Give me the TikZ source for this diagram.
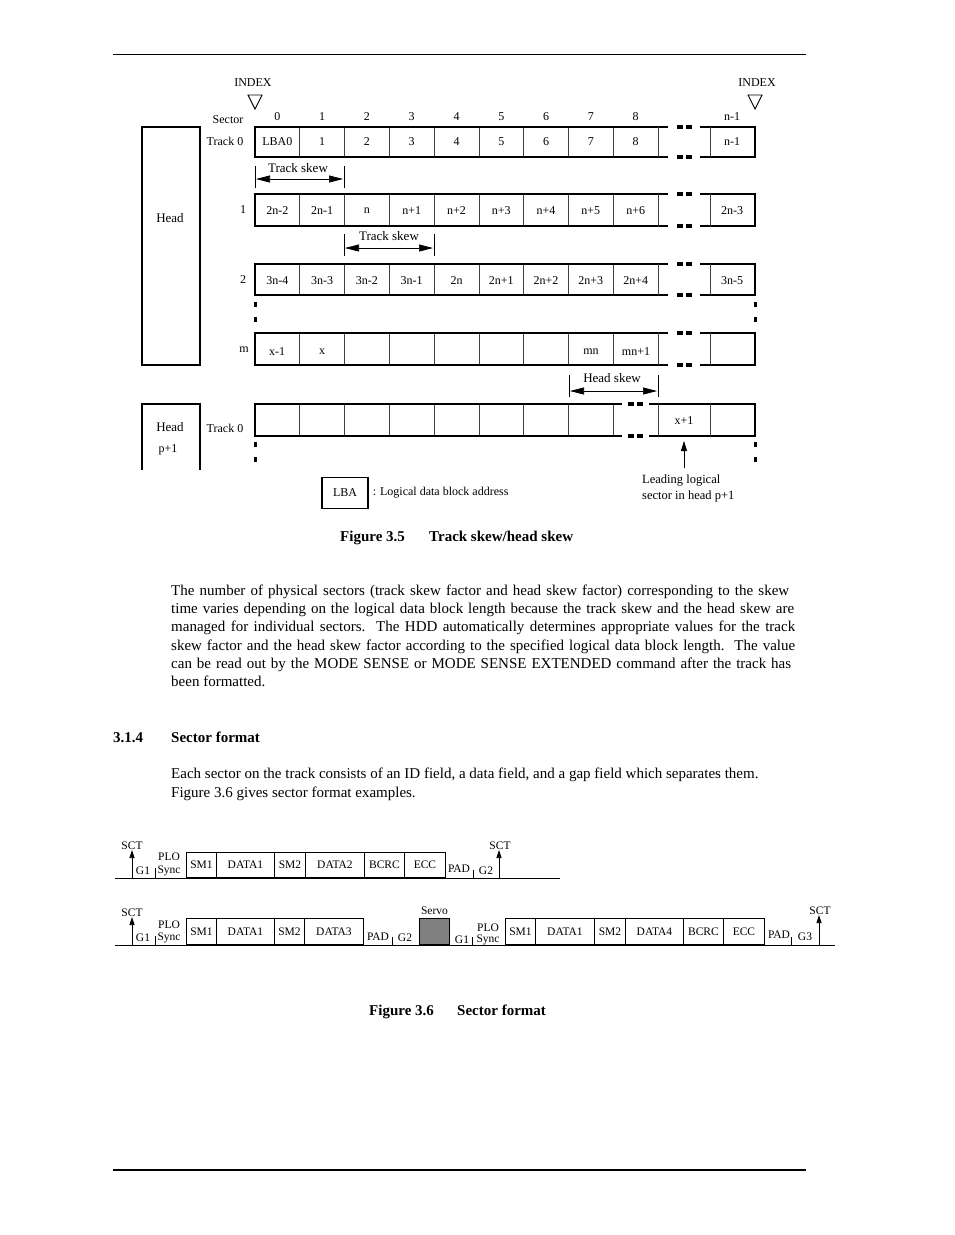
\documentclass[tikz,border=0pt]{standalone}
\usepackage{fontspec}
\setmainfont{Liberation Serif}
\usetikzlibrary{arrows.meta,positioning,calc}

\begin{document}
\begin{tikzpicture}[x=1pt,y=-1pt,
  lbl/.style={inner sep=0pt,font=\fontsize{12}{14}\selectfont},
  body/.style={inner sep=0pt,anchor=base west,font=\fontsize{15}{18}\selectfont},
  capt/.style={inner sep=0pt,anchor=base west,font=\fontsize{15}{18}\selectfont\bfseries},
  rowline/.style={line width=1.5pt},
  cellline/.style={line width=0.8pt,black!75},
  fld/.style={draw,line width=0.9pt,inner sep=0pt,anchor=south west,font=\fontsize{11.5}{13}\selectfont},
  sml/.style={inner sep=0pt,font=\fontsize{11.5}{13}\selectfont},
  skew/.style={<->,>={Triangle[length=14pt,width=7pt]},line width=0.7pt},
  up/.style={->,>={Triangle[length=8pt,width=5pt]},line width=0.8pt}]

\fill[white] (0,0) rectangle (954,1235);
\useasboundingbox (0,0) rectangle (954,1235);

% page rules
\draw[line width=0.8pt] (113,54) -- (806,54);
\draw[line width=1.8pt] (113,1170) -- (806,1170);

% Figure 3.5: index marks and sector numbers
\node[lbl] (idxL) at (253,83) {INDEX};
\node[lbl] (idxR) at (757,83) {INDEX};
\draw[line width=0.9pt] (248,95) -- (262,95) -- (255,109) -- cycle;
\draw[line width=0.9pt] (748,95) -- (762,95) -- (755,109) -- cycle;
\node[lbl] (sec) at (228,120) {Sector};
\foreach \l [count=\i] in {0,1,2,3,4,5,6,7,8}
  \node[lbl] (sn\i) at ({255+(\i-0.5)*44.78},117) {\l};
\node[lbl] (snn) at (732,117) {n-1};

% tracks of the first head
\foreach \r/\t/\b in {0/127/157,1/194/226,2/264/295,m/333/365}{
  \foreach \i in {1,...,8}
    \draw[cellline] ({255+\i*44.78},\t) -- ({255+\i*44.78},\b);
  \draw[rowline] (668,\t) -- (255,\t) -- (255,\b) -- (668,\b);
  \draw[rowline] (700,\t) -- (755,\t) -- (755,\b) -- (700,\b);
  \draw[cellline] (658,\t) -- (658,\b);
  \draw[cellline] (710,\t) -- (710,\b);
  \foreach \d in {677,686}{
    \fill (\d,\t-2) rectangle ++(6,4);
    \fill (\d,\b-2) rectangle ++(6,4);
  }
}
\foreach \l [count=\i] in {LBA0,1,2,3,4,5,6,7,8}
  \node[lbl] (ta\i) at ({255+(\i-0.5)*44.78},142) {\l};
\node[lbl] (tan) at (732,142) {n-1};
\foreach \l [count=\i] in {2n-2,2n-1,n,n+1,n+2,n+3,n+4,n+5,n+6}
  \node[lbl] (tb\i) at ({255+(\i-0.5)*44.78},211) {\l};
\node[lbl] (tbn) at (732,211) {2n-3};
\foreach \l [count=\i] in {3n-4,3n-3,3n-2,3n-1,2n,2n+1,2n+2,2n+3,2n+4}
  \node[lbl] (tc\i) at ({255+(\i-0.5)*44.78},281) {\l};
\node[lbl] (tcn) at (732,281) {3n-5};
\node[lbl] (tm1) at (277,352) {x-1};
\node[lbl] (tm2) at (322,352) {x};
\node[lbl] (tm8) at (591,352) {mn};
\node[lbl] (tm9) at (636,352) {mn+1};

\node[lbl] (trk0) at (225,141) {Track 0};
\node[lbl] (trk1) at (243,210) {1};
\node[lbl] (trk2) at (243,280) {2};
\node[lbl] (trkm) at (244,350) {m};

% head boxes
\draw[rowline] (142,127) rectangle (200,365);
\node[lbl,font=\fontsize{13}{15}\selectfont] (head) at (170,218) {Head};
\draw[rowline] (142,470) -- (142,404) -- (200,404) -- (200,470);
\node[lbl,font=\fontsize{13}{15}\selectfont] (headp) at (170,427) {Head};
\node[lbl] (headq) at (168,450) {p+1};

% track 0 of head p+1
\foreach \i in {1,...,8}
  \draw[cellline] ({255+\i*44.78},404) -- ({255+\i*44.78},436);
\draw[rowline] (622,404) -- (255,404) -- (255,436) -- (622,436);
\draw[rowline] (649,404) -- (755,404) -- (755,436) -- (649,436);
\draw[cellline] (658,404) -- (658,436);
\draw[cellline] (710,404) -- (710,436);
\foreach \d in {628,637}{
  \fill (\d,402) rectangle ++(6,4);
  \fill (\d,434) rectangle ++(6,4);
}
\node[lbl] (xp1) at (684,421) {x+1};
\node[lbl] (trkp) at (225,428) {Track 0};

% vertical continuation marks
\foreach \x in {255,755}
  \foreach \y in {302,317,442,457}
    \fill (\x-1.5,\y) rectangle ++(3,5);

% skews
\draw[line width=0.8pt] (255,166) -- (255,188) (344,166) -- (344,188);
\coordinate (ts1a) at (256,179);
\coordinate (ts1b) at (343,179);
\draw[skew] (ts1a) -- (ts1b);
\node[lbl,font=\fontsize{13}{15}\selectfont] (ts1) at (298,168) {Track skew};

\draw[line width=0.8pt] (344,234) -- (344,256) (434,234) -- (434,256);
\coordinate (ts2a) at (345,248);
\coordinate (ts2b) at (433,248);
\draw[skew] (ts2a) -- (ts2b);
\node[lbl,font=\fontsize{13}{15}\selectfont] (ts2) at (389,236) {Track skew};

\draw[line width=0.8pt] (569,375) -- (569,397) (658,375) -- (658,397);
\coordinate (hsa) at (570,391);
\coordinate (hsb) at (657,391);
\draw[skew] (hsa) -- (hsb);
\node[lbl,font=\fontsize{13}{15}\selectfont] (hs) at (612,378) {Head skew};

% leading sector
\coordinate (leadtip) at (684,441);
\coordinate (lead) at (684,468);
\draw[up,>={Triangle[length=10pt,width=6pt]}] (lead) -- (leadtip);
\node[lbl,align=left,anchor=north west,font=\fontsize{12.5}{16}\selectfont] (leadtxt) at (642,475) {Leading logical\\sector in head p+1};

% legend
\node[lbl,draw,line width=1.2pt,minimum width=46pt,minimum height=31pt] (lba) at (345,493) {LBA};
\node[lbl,right=4pt of lba] (lbatxt) {: Logical data block address};

\node[capt] (cap35a) at (340,541) {Figure 3.5};
\node[capt] (cap35b) at (429,541) {Track skew/head skew};

% text
\node[body] (p1a) at (171,595.5) {\makebox[618pt][s]{The number of physical sectors (track skew factor and head skew factor) corresponding to the skew}};
\node[body] (p1b) at (171,613.7) {\makebox[623pt][s]{time varies depending on the logical data block length because the track skew and the head skew are}};
\node[body] (p1c) at (171,631.9) {\makebox[624pt][s]{managed for individual sectors.\ \ The HDD automatically determines appropriate values for the track}};
\node[body] (p1d) at (171,650.1) {\makebox[624pt][s]{skew factor and the head skew factor according to the specified logical data block length.\ \ The value}};
\node[body] (p1e) at (171,668.3) {\makebox[620pt][s]{can be read out by the MODE SENSE or MODE SENSE EXTENDED command after the track has}};
\node[body] (p1f) at (171,686.5) {been formatted.};

\node[capt] (sec314) at (113,742.5) {3.1.4};
\node[capt] (sec314t) at (171,742.5) {Sector format};

\node[body] (p2a) at (171,778.5) {Each sector on the track consists of an ID field, a data field, and a gap field which separates them.};
\node[body] (p2b) at (171,797.5) {Figure 3.6 gives sector format examples.};

% Figure 3.6, first format
\draw[line width=0.9pt] (115,878) -- (560,878);
\foreach \a/\b/\t [count=\k] in {186/216/SM1,216/274/DATA1,274/305/SM2,305/364/DATA2,364/404/BCRC,404/445/ECC}
  \node[fld,minimum width={(\b-\a)*1pt},minimum height=25pt] (fa\k) at (\a,878) {\t};
\node[sml] (sa1) at (132,846) {SCT};
\node[sml] (sa2) at (500,846) {SCT};
\coordinate (sa1b) at (132,878);
\coordinate (sa2b) at (499,878);
\draw[up] (sa1b) -- (sa1.south);
\draw[up] (sa2b) -- (sa2.south -| sa2b);
\node[sml] (ga1) at (143,871) {G1};
\node[sml] (pa1) at (169,857) {PLO};
\node[sml] (ya1) at (169,871) {Sync};
\node[sml] (da1) at (459,869) {PAD};
\node[sml] (ga2) at (486,871) {G2};
\draw[line width=0.6pt] (155,868) -- (155,878) (473,870) -- (473,878);

% second format, with servo
\draw[line width=0.9pt] (115,945) -- (835,945);
\foreach \a/\b/\t [count=\k] in {186/216/SM1,216/274/DATA1,274/304/SM2,304/363/DATA3,505/535/SM1,535/594/DATA1,594/625/SM2,625/683/DATA4,683/723/BCRC,723/764/ECC}
  \node[fld,minimum width={(\b-\a)*1pt},minimum height=26pt] (fb\k) at (\a,945) {\t};
\node[fld,fill=black!50,minimum width=30pt,minimum height=26pt] (servo) at (419,945) {};
\node[sml,above=3pt of servo] (servot) {Servo};
\node[sml] (sb1) at (132,913) {SCT};
\node[sml] (sb2) at (820,911) {SCT};
\coordinate (sb1b) at (132,945);
\coordinate (sb2b) at (819,945);
\draw[up] (sb1b) -- (sb1.south);
\draw[up] (sb2b) -- (sb2.south -| sb2b);
\node[sml] (gb1) at (143,938) {G1};
\node[sml] (pb1) at (169,925) {PLO};
\node[sml] (yb1) at (169,938) {Sync};
\node[sml] (db1) at (378,937) {PAD};
\node[sml] (gb2) at (405,938) {G2};
\node[sml] (gb3) at (462,940) {G1};
\node[sml] (pb2) at (488,928) {PLO};
\node[sml] (yb2) at (488,940) {Sync};
\node[sml] (db2) at (779,935) {PAD};
\node[sml] (gb4) at (805,937) {G3};
\draw[line width=0.6pt] (155,936) -- (155,945) (392,937) -- (392,945)
  (472,937) -- (472,945) (791,937) -- (791,945);

\node[capt] (cap36a) at (369,1015) {Figure 3.6};
\node[capt] (cap36b) at (457,1015) {Sector format};
\end{tikzpicture}
\end{document}
